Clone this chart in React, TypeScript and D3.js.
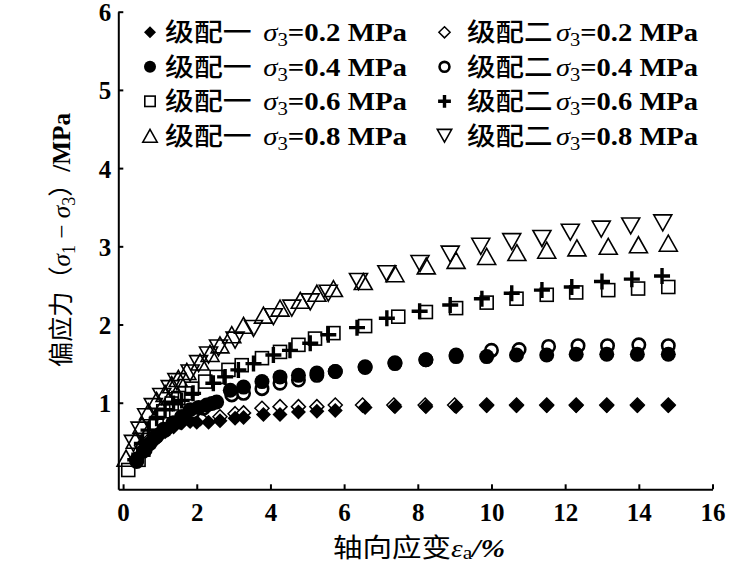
import React, { useEffect, useRef } from "react";
import * as d3 from "d3";

const W = 755;
const H = 568;

const CJK = "'Noto Sans CJK SC', 'Noto Sans CJK JP', sans-serif";
const SERIF = "'Liberation Serif', 'DejaVu Serif', serif";

// ---- Axis ticks ----
const xTickValues = [0, 2, 4, 6, 8, 10, 12, 14, 16];
const yTickValues = [1, 2, 3, 4, 5, 6];

// ---- Legend text ----
const gradeNames = ["级配一", "级配二"];
const sigmaLevels = ["0.2", "0.4", "0.6", "0.8"];

// ---- Data: 级配一 σ3=0.2 MPa (filled diamond) ----
const g1s02X = [0.6, 0.73, 0.91, 1.14, 1.37, 1.59, 1.82, 2.0, 2.32, 2.63, 3.04, 3.27, 3.81, 4.26, 4.76, 5.26, 5.76, 6.57, 7.38, 8.22, 9.04, 9.87, 10.68, 11.5, 12.3, 13.13, 13.96, 14.8];
const g1s02Y = [0.44, 0.48, 0.54, 0.63, 0.69, 0.74, 0.76, 0.75, 0.75, 0.77, 0.8, 0.81, 0.85, 0.85, 0.88, 0.89, 0.9, 0.94, 0.95, 0.95, 0.95, 0.96, 0.96, 0.96, 0.96, 0.96, 0.96, 0.96];

// ---- 级配二 σ3=0.2 MPa (open diamond) ----
const g2s02X = [0.5, 0.7, 0.9, 1.1, 1.3, 1.55, 1.8, 2.1, 2.63, 3.04, 3.27, 3.77, 4.26, 4.76, 5.26, 5.76, 6.5, 7.35, 8.2, 9.0, 9.87, 10.68, 11.5, 12.3, 13.13, 13.96, 14.8];
const g2s02Y = [0.45, 0.52, 0.58, 0.64, 0.7, 0.75, 0.78, 0.8, 0.82, 0.86, 0.87, 0.93, 0.95, 0.95, 0.95, 0.97, 0.97, 0.97, 0.97, 0.97, 0.97, 0.97, 0.97, 0.97, 0.97, 0.97, 0.97];

// ---- 级配一 σ3=0.4 MPa (filled circle) ----
const g1s04X = [0.37, 0.55, 0.73, 0.91, 1.14, 1.37, 1.59, 1.82, 2.05, 2.27, 2.54, 2.91, 3.27, 3.77, 4.26, 4.76, 5.26, 5.76, 6.57, 7.38, 8.22, 9.04, 9.87, 10.68, 11.5, 12.3, 13.13, 13.96, 14.8];
const g1s04Y = [0.27, 0.38, 0.48, 0.57, 0.65, 0.74, 0.82, 0.91, 0.94, 0.97, 1.01, 1.16, 1.2, 1.27, 1.33, 1.35, 1.38, 1.4, 1.46, 1.5, 1.55, 1.59, 1.59, 1.61, 1.61, 1.62, 1.62, 1.62, 1.62];

// ---- 级配二 σ3=0.4 MPa (open circle) ----
const g2s04X = [0.37, 0.6, 0.85, 1.1, 1.35, 1.6, 1.9, 2.18, 2.41, 2.95, 3.27, 3.77, 4.26, 4.76, 5.26, 5.76, 6.57, 7.38, 8.22, 9.04, 10.0, 10.75, 11.55, 12.35, 13.15, 14.0, 14.8];
const g2s04Y = [0.25, 0.4, 0.55, 0.66, 0.74, 0.82, 0.88, 0.93, 0.99, 1.1, 1.12, 1.18, 1.25, 1.29, 1.35, 1.4, 1.45, 1.51, 1.55, 1.61, 1.67, 1.68, 1.72, 1.73, 1.73, 1.74, 1.73];

// ---- 级配一 σ3=0.6 MPa (open square) ----
const g1s06X = [0.14, 0.42, 0.55, 0.73, 0.91, 1.09, 1.32, 1.5, 1.68, 1.87, 2.23, 2.54, 2.86, 3.22, 3.77, 4.26, 4.76, 5.21, 5.71, 6.57, 7.47, 8.22, 9.04, 9.87, 10.68, 11.5, 12.3, 13.17, 13.98, 14.8];
const g1s06Y = [0.14, 0.27, 0.4, 0.57, 0.74, 0.89, 0.99, 1.06, 1.12, 1.18, 1.27, 1.33, 1.42, 1.48, 1.57, 1.65, 1.74, 1.82, 1.89, 1.98, 2.1, 2.16, 2.21, 2.28, 2.33, 2.38, 2.41, 2.44, 2.46, 2.48];

// ---- 级配二 σ3=0.6 MPa (plus) ----
const g2s06X = [0.33, 0.51, 0.69, 0.91, 1.14, 1.37, 1.59, 1.9, 2.45, 2.77, 3.13, 3.54, 4.08, 4.53, 5.08, 5.57, 6.35, 7.16, 8.05, 8.88, 9.74, 10.55, 11.37, 12.18, 13.0, 13.81, 14.63];
const g2s06Y = [0.27, 0.48, 0.65, 0.8, 0.91, 0.99, 1.03, 1.12, 1.25, 1.33, 1.42, 1.5, 1.61, 1.67, 1.76, 1.87, 1.96, 2.08, 2.17, 2.25, 2.33, 2.4, 2.44, 2.48, 2.55, 2.58, 2.62];

// ---- 级配一 σ3=0.8 MPa (open up-triangle) ----
const g1s08X = [0.08, 0.33, 0.51, 0.69, 0.91, 1.14, 1.32, 1.5, 1.73, 2.09, 2.36, 2.63, 2.95, 3.27, 3.81, 4.26, 4.81, 5.26, 5.71, 6.52, 7.38, 8.23, 9.04, 9.87, 10.69, 11.5, 12.32, 13.17, 13.99, 14.8];
const g1s08Y = [0.29, 0.52, 0.71, 0.885, 1.03, 1.12, 1.23, 1.31, 1.4, 1.52, 1.63, 1.74, 1.87, 1.99, 2.12, 2.21, 2.31, 2.4, 2.46, 2.55, 2.65, 2.75, 2.82, 2.87, 2.92, 2.95, 2.98, 3.0, 3.02, 3.04];

// ---- 级配二 σ3=0.8 MPa (open down-triangle) ----
const g2s08X = [0.28, 0.46, 0.64, 0.82, 1.05, 1.28, 1.46, 1.82, 2.05, 2.32, 2.59, 3.04, 3.54, 4.08, 4.58, 5.08, 5.57, 6.39, 7.16, 8.06, 8.88, 9.71, 10.55, 11.37, 12.14, 12.98, 13.78, 14.65];
const g2s08Y = [0.48, 0.65, 0.82, 0.95, 1.08, 1.18, 1.27, 1.38, 1.5, 1.61, 1.7, 1.8, 1.95, 2.1, 2.21, 2.29, 2.4, 2.55, 2.65, 2.78, 2.9, 3.0, 3.06, 3.1, 3.18, 3.22, 3.26, 3.3];

type Shape = "diamondFilled" | "diamondOpen" | "circleFilled" | "circleOpen" | "square" | "plus" | "triUp" | "triDown";

const series: { grade: number; sigma: number; shape: Shape; xs: number[]; ys: number[] }[] = [
  { grade: 1, sigma: 0, shape: "diamondOpen", xs: g2s02X, ys: g2s02Y },
  { grade: 0, sigma: 0, shape: "diamondFilled", xs: g1s02X, ys: g1s02Y },
  { grade: 1, sigma: 1, shape: "circleOpen", xs: g2s04X, ys: g2s04Y },
  { grade: 0, sigma: 1, shape: "circleFilled", xs: g1s04X, ys: g1s04Y },
  { grade: 0, sigma: 2, shape: "square", xs: g1s06X, ys: g1s06Y },
  { grade: 1, sigma: 2, shape: "plus", xs: g2s06X, ys: g2s06Y },
  { grade: 0, sigma: 3, shape: "triUp", xs: g1s08X, ys: g1s08Y },
  { grade: 1, sigma: 3, shape: "triDown", xs: g2s08X, ys: g2s08Y },
];

const x = d3.scaleLinear().domain([-0.13, 16]).range([118.3, 712.5]);
const y = d3.scaleLinear().domain([-0.107, 6]).range([489.3, 11.7]);

function Marker({ shape, cx, cy, s = 1 }: { shape: Shape; cx: number; cy: number; s?: number }) {
  switch (shape) {
    case "diamondFilled": {
      const r = 7.5 * s;
      return <path d={`M${cx},${cy - r}L${cx + r},${cy}L${cx},${cy + r}L${cx - r},${cy}Z`} fill="#000" />;
    }
    case "diamondOpen": {
      const r = 7 * s;
      return <path d={`M${cx},${cy - r}L${cx + r},${cy}L${cx},${cy + r}L${cx - r},${cy}Z`} fill="#fff" stroke="#000" strokeWidth={1.5} />;
    }
    case "circleFilled":
      return <circle cx={cx} cy={cy} r={7.5 * s} fill="#000" />;
    case "circleOpen":
      return <circle cx={cx} cy={cy} r={6.2 * s} fill="#fff" stroke="#000" strokeWidth={2.6} />;
    case "square": {
      const h = 6.5 * s;
      return <rect x={cx - h} y={cy - h} width={2 * h} height={2 * h} fill="none" stroke="#000" strokeWidth={1.6} />;
    }
    case "plus": {
      const h = 8 * s;
      return <path d={`M${cx - h},${cy}H${cx + h}M${cx},${cy - h}V${cy + h}`} fill="none" stroke="#000" strokeWidth={3.4} />;
    }
    case "triUp": {
      const w = 9 * s, hh = 8 * s;
      return <path d={`M${cx},${cy - hh}L${cx + w},${cy + hh}L${cx - w},${cy + hh}Z`} fill="none" stroke="#000" strokeWidth={1.6} strokeLinejoin="miter" />;
    }
    case "triDown": {
      const w = 9 * s, hh = 8 * s;
      return <path d={`M${cx - w},${cy - hh}L${cx + w},${cy - hh}L${cx},${cy + hh}Z`} fill="none" stroke="#000" strokeWidth={1.6} strokeLinejoin="miter" />;
    }
  }
  return null;
}

const legendRowY = [32.3, 66.8, 101.3, 135.8];
const legendCols = [
  { sym: 150, text: 165, len: 242, gap: 10 },
  { sym: 444.5, text: 467, len: 231, gap: 3 },
];

export default function App() {
  const xAxisRef = useRef<SVGGElement>(null);
  const yAxisRef = useRef<SVGGElement>(null);

  useEffect(() => {
    const xa = d3.axisBottom(x).tickValues(xTickValues).tickSizeInner(-5).tickSizeOuter(0).tickPadding(14).tickFormat(d3.format("d"));
    const ya = d3.axisLeft(y).tickValues(yTickValues).tickSizeInner(-5).tickSizeOuter(0).tickPadding(7).tickFormat(d3.format("d"));
    const gx = d3.select(xAxisRef.current!);
    gx.call(xa as any);
    const gy = d3.select(yAxisRef.current!);
    gy.call(ya as any);
    [gx, gy].forEach((g) => {
      g.select(".domain").attr("stroke", "#000").attr("stroke-width", 2);
      g.selectAll(".tick line").attr("stroke", "#000").attr("stroke-width", 2);
      g.selectAll(".tick text")
        .attr("fill", "#000")
        .style("font-family", SERIF)
        .style("font-weight", "bold")
        .style("font-size", "25px");
    });
    gx.attr("font-family", null).attr("font-size", null);
    gy.attr("font-family", null).attr("font-size", null);
    gy.selectAll(".tick text").attr("dy", "0.36em");
  }, []);

  return (
    <div style={{ position: "absolute", left: 0, top: 0, width: W, height: H, background: "#fff" }}>
      <svg width={W} height={H} viewBox={`0 0 ${W} ${H}`} style={{ display: "block" }}>
        <rect width={W} height={H} fill="#fff" />
        {/* data */}
        {series.map((se, i) => (
          <g key={i}>
            {se.xs.map((v, j) => (
              <Marker key={j} shape={se.shape} cx={x(v)} cy={y(se.ys[j])} />
            ))}
          </g>
        ))}
        {/* axes */}
        <g ref={xAxisRef} transform={`translate(0,${y(-0.107)})`} />
        <g ref={yAxisRef} transform={`translate(${x(-0.13)},0)`} />

        {/* legend */}
        {series.map((se, i) => {
          const col = legendCols[se.grade];
          const ry = legendRowY[se.sigma];
          return (
            <g key={"lg" + i}>
              <Marker shape={se.shape} cx={col.sym} cy={ry} s={0.8} />
              <text x={col.text} y={ry + 9} fontSize={25} fill="#000" textLength={col.len} lengthAdjust="spacingAndGlyphs">
                <tspan fontFamily={CJK} fontWeight={500}>{gradeNames[se.grade]}</tspan>
                <tspan fontFamily={SERIF} fontStyle="italic" dx={col.gap}>σ</tspan>
                <tspan fontFamily={SERIF} fontSize={18} dy={5}>3</tspan>
                <tspan fontFamily={SERIF} fontWeight="bold" dy={-5}>{`=${sigmaLevels[se.sigma]} MPa`}</tspan>
              </text>
            </g>
          );
        })}

        {/* y title */}
        <text transform="translate(70,240) rotate(-90)" textAnchor="middle" fontSize={25} fill="#000" textLength={254} lengthAdjust="spacingAndGlyphs">
          <tspan fontFamily={CJK}>偏应力（</tspan>
          <tspan fontFamily={SERIF} fontStyle="italic">σ</tspan>
          <tspan fontFamily={SERIF} fontSize={18} dy={5}>1</tspan>
          <tspan fontFamily={SERIF} dy={-5}> − </tspan>
          <tspan fontFamily={SERIF} fontStyle="italic">σ</tspan>
          <tspan fontFamily={SERIF} fontSize={18} dy={5}>3</tspan>
          <tspan fontFamily={CJK} dy={-5}>）</tspan>
          <tspan fontFamily={SERIF} fontWeight="bold">/MPa</tspan>
        </text>

        {/* x title */}
        <text x={419} y={557} textAnchor="middle" fontSize={26} fill="#000" textLength={172} lengthAdjust="spacingAndGlyphs">
          <tspan fontFamily={CJK}>轴向应变</tspan>
          <tspan fontFamily={SERIF} fontStyle="italic">ε</tspan>
          <tspan fontFamily={SERIF} fontSize={19} dy={2}>a</tspan>
          <tspan fontFamily={SERIF} fontWeight="bold" fontStyle="italic" dy={-2}>/%</tspan>
        </text>
      </svg>
    </div>
  );
}
